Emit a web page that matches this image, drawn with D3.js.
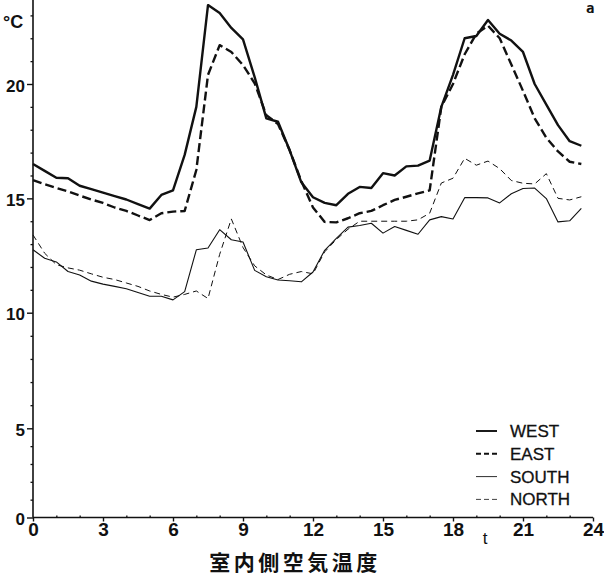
<!DOCTYPE html>
<html>
<head>
<meta charset="utf-8">
<script src="https://cdn.jsdelivr.net/npm/d3@7"></script>
<style>
  body { margin: 0; background: #fff; }
  svg { display: block; }
</style>
</head>
<body>
<svg id="chart" width="604" height="576"></svg>
<script>
// time of day (h), half-hour readings
const hours = [0, 0.5, 1, 1.5, 2, 2.5, 3, 3.5, 4, 4.5, 5, 5.5, 6, 6.5, 7, 7.5, 8, 8.5, 9, 9.5,
  10, 10.5, 11, 11.5, 12, 12.5, 13, 13.5, 14, 14.5, 15, 15.5, 16, 16.5, 17, 17.5, 18, 18.5, 19, 19.5,
  20, 20.5, 21, 21.5, 22, 22.5, 23, 23.5];

// indoor air temperature (°C)
const west = [16.5, 16.2, 15.9, 15.88, 15.55, 15.4, 15.25, 15.1, 14.95, 14.75, 14.55, 15.15, 15.35, 16.9, 19.0, 23.45,
  23.1, 22.45, 21.95, 20.3, 18.5, 18.35, 17.1, 15.7, 15.05, 14.8, 14.7, 15.2, 15.5, 15.45, 16.1, 16.0,
  16.4, 16.43, 16.65, 19.0, 20.4, 22.0, 22.1, 22.8, 22.2, 21.9, 21.4, 20.0, 19.1, 18.2, 17.5, 17.3];
const east = [15.8, 15.62, 15.45, 15.3, 15.12, 14.95, 14.8, 14.6, 14.45, 14.25, 14.05, 14.35, 14.42, 14.45, 16.24, 20.4,
  21.7, 21.4, 20.83, 20.03, 18.64, 18.25, 17.1, 15.75, 14.6, 13.97, 13.95, 14.13, 14.35, 14.45, 14.7, 14.93,
  15.07, 15.22, 15.35, 19.0, 20.0, 21.3, 22.2, 22.55, 22.0, 20.85, 19.7, 18.5, 17.65, 17.05, 16.6, 16.5];
const south = [12.75, 12.38, 12.22, 11.8, 11.65, 11.38, 11.25, 11.15, 11.05, 10.88, 10.72, 10.72, 10.56, 10.92, 12.75, 12.83,
  13.63, 13.19, 13.09, 11.85, 11.57, 11.43, 11.4, 11.35, 11.78, 12.73, 13.25, 13.74, 13.81, 13.91, 13.48, 13.77,
  13.6, 13.43, 14.06, 14.2, 14.1, 15.03, 15.03, 15.02, 14.8, 15.2, 15.43, 15.45, 14.99, 13.97, 14.02, 14.56];
const north = [13.4, 12.6, 12.1, 11.96, 11.86, 11.7, 11.55, 11.45, 11.3, 11.15, 10.95, 10.8, 10.68, 10.8, 10.95, 10.62,
  12.55, 14.1, 12.85, 12.05, 11.65, 11.45, 11.68, 11.8, 11.7, 12.66, 13.2, 13.65, 14.0, 14.0, 14.0, 14.0,
  14.0, 14.06, 14.35, 15.67, 15.88, 16.75, 16.45, 16.63, 16.3, 15.78, 15.66, 15.63, 16.08, 15.0, 14.93, 15.07];

const seriesNames = ['WEST', 'EAST', 'SOUTH', 'NORTH'];
const xMajor = [0, 3, 6, 9, 12, 15, 18, 21, 24];
const xMinor = [1, 2, 4, 5, 7, 8, 10, 11, 13, 14, 16, 17, 19, 20, 22, 23];
const yMajor = [0, 5, 10, 15, 20];
const yMinor = [1, 2, 3, 4, 6, 7, 8, 9, 11, 12, 13, 14, 16, 17, 18, 19, 21, 22, 23];

const svg = d3.select('#chart');
const font = '"Liberation Sans", Arial, sans-serif';

// the printed y axis is squeezed below 5, so the scale is piecewise
const x = d3.scaleLinear().domain([0, 24]).range([33, 593]);
const y = d3.scaleLinear().domain([0, 5, 10, 20]).range([517.5, 428.3, 312.7, 84]);

// axis lines
svg.append('line')
    .attr('x1', x(0)).attr('x2', x(0))
    .attr('y1', y(0)).attr('y2', 0)
    .attr('stroke', '#111').attr('stroke-width', 1.6);
svg.append('line')
    .attr('x1', x(0)).attr('x2', x(24))
    .attr('y1', y(0)).attr('y2', y(0))
    .attr('stroke', '#111').attr('stroke-width', 1.6);

// y ticks
const yAxis = svg.append('g')
    .attr('transform', `translate(${x(0)},0)`)
    .call(d3.axisLeft(y).tickValues(yMajor).tickSize(6).tickPadding(2));
yAxis.select('.domain').remove();
yAxis.selectAll('line').attr('stroke', '#111').attr('stroke-width', 1.4);
yAxis.selectAll('text')
    .attr('font-family', font).attr('font-weight', 'bold')
    .attr('font-size', 17).attr('fill', '#111').attr('dy', '0.42em');

const yMinorAxis = svg.append('g')
    .attr('transform', `translate(${x(0)},0)`)
    .call(d3.axisLeft(y).tickValues(yMinor).tickSize(2.5).tickFormat(''));
yMinorAxis.select('.domain').remove();
yMinorAxis.selectAll('line').attr('stroke', '#111').attr('stroke-width', 1.3);

// x ticks
const xAxis = svg.append('g')
    .attr('transform', `translate(0,${y(0)})`)
    .call(d3.axisBottom(x).tickValues(xMajor).tickSize(4).tickPadding(1));
xAxis.select('.domain').remove();
xAxis.selectAll('line').attr('stroke', '#111').attr('stroke-width', 1.4);
xAxis.selectAll('text')
    .attr('font-family', font).attr('font-weight', 'bold')
    .attr('font-size', 19).attr('fill', '#111');

const xMinorAxis = svg.append('g')
    .attr('transform', `translate(0,${y(0)})`)
    .call(d3.axisTop(x).tickValues(xMinor).tickSize(2).tickFormat(''));
xMinorAxis.select('.domain').remove();
xMinorAxis.selectAll('line').attr('stroke', '#111').attr('stroke-width', 1.3);

// data lines
const styles = [
    { data: west, width: 2.4, dash: null },
    { data: east, width: 2.4, dash: '9,4' },
    { data: south, width: 1.1, dash: null },
    { data: north, width: 1.0, dash: '6,4' }
];

const line = d3.line()
    .x((d, i) => x(hours[i]))
    .y(d => y(d));

svg.append('g')
    .selectAll('path')
    .data(styles)
    .enter()
    .append('path')
    .attr('d', d => line(d.data))
    .attr('fill', 'none')
    .attr('stroke', '#111')
    .attr('stroke-width', d => d.width)
    .attr('stroke-dasharray', d => d.dash)
    .attr('stroke-linejoin', 'round');

// legend
const legendDash = ['', '5,3', '', '5,3'];
const legend = svg.append('g')
    .selectAll('g')
    .data(seriesNames)
    .enter()
    .append('g')
    .attr('transform', (d, i) => `translate(476,${431 + i * 22.8})`);

legend.append('line')
    .attr('x1', 0).attr('x2', 21)
    .attr('stroke', '#111')
    .attr('stroke-width', (d, i) => styles[i].width * 0.8)
    .attr('stroke-dasharray', (d, i) => legendDash[i] || null);

legend.append('text')
    .attr('x', 34).attr('y', 6)
    .attr('font-family', font).attr('font-size', 17)
    .attr('fill', '#111')
    .attr('stroke', '#111').attr('stroke-width', 0.3)
    .text(d => d);

// labels
svg.append('text')
    .attr('x', 3).attr('y', 28)
    .attr('font-family', font).attr('font-weight', 'bold').attr('font-size', 18)
    .attr('fill', '#111')
    .text('°C');

svg.append('text')
    .attr('x', 586).attr('y', 13)
    .attr('font-family', '"DejaVu Sans Mono", monospace').attr('font-weight', 'bold').attr('font-size', 14)
    .attr('fill', '#111')
    .text('a');

svg.append('text')
    .attr('x', 485).attr('y', 544)
    .attr('text-anchor', 'middle')
    .attr('font-family', font).attr('font-size', 17)
    .attr('fill', '#111')
    .text('t');

svg.append('text')
    .attr('x', 295).attr('y', 570)
    .attr('text-anchor', 'middle')
    .attr('font-family', '"Noto Sans CJK JP", sans-serif').attr('font-weight', 'bold').attr('font-size', 21)
    .attr('letter-spacing', 3.5)
    .attr('fill', '#111')
    .text('室内側空気温度');
</script>
</body>
</html>
